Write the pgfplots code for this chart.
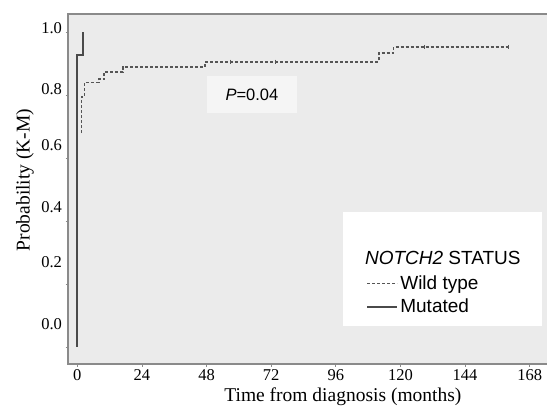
\documentclass[border=0pt]{standalone}
\usepackage{fontspec}
\setmainfont{Liberation Serif}
\newfontfamily\arial{Liberation Sans}
\usepackage{pgfplots}
\pgfplotsset{compat=1.18}
\usetikzlibrary{calc}
\definecolor{bg}{HTML}{EBEBEB}
\definecolor{axisgray}{HTML}{8A8A8A}
\definecolor{mutc}{HTML}{4A4A4A}
\definecolor{wildc}{HTML}{555555}
\definecolor{pbox}{HTML}{F5F5F5}
\begin{document}
\begin{tikzpicture}
\begin{axis}[name=ax, scale only axis, width=484bp, height=350bp,
  xmin=-3.45, xmax=176.3, ymin=-0.054, ymax=1.057,
  axis background/.style={fill=bg},
  axis line style={draw=axisgray, line width=1.5bp},
  xtick pos=bottom, ytick pos=left,
  /pgf/number format/assume math mode=true,
  tick label style={font=\fontsize{16.5bp}{19bp}\selectfont},
  xtick={0,24,48,72,96,120,144,168},
  xtick style={draw=axisgray, line width=0.8bp},
  major tick length=2.5bp,
  ytick={0.073,0.270,0.444,0.641,0.819,1.013},
  yticklabels={0.0,0.2,0.4,0.6,0.8,1.0},
  ytick style={draw=none},
  extra y ticks={0,0.2,0.4,0.6,0.8,1.0},
  extra y tick labels={},
  extra y tick style={ytick style={draw=axisgray, line width=0.8bp}, tick align=outside},
  tick align=outside,
  xlabel={Time from diagnosis (months)},
  ylabel={Probability (K-M)},
  label style={font=\fontsize{19.5bp}{22bp}\selectfont},
  xlabel style={at={(axis description cs:0.568,-0.094)}, anchor=center},
  ylabel style={at={(axis description cs:-0.089,0.526)}, anchor=center},
  clip=false,
  legend style={at={(rel axis cs:0.616,0.258)}, anchor=north west, draw=none, fill=none,
    font=\arial\fontsize{19bp}{21bp}\selectfont, inner sep=0pt, row sep=4bp,
    /tikz/every even column/.append style={column sep=0pt}},
  legend cell align=left,
  legend image code/.code={\draw[#1] (0bp,0bp) -- (30bp,0bp);},
]
% legend box and title
\fill[white] (rel axis cs:0.568,0.434) rectangle (rel axis cs:0.980,0.1086);
\node[font=\arial\fontsize{19bp}{21bp}\selectfont] at (rel axis cs:0.7745,0.303) {\textit{NOTCH2} STATUS};
% P value box
\fill[pbox] (rel axis cs:0.287,0.823) rectangle (rel axis cs:0.473,0.717);
\node[font=\arial\fontsize{16.5bp}{19bp}\selectfont] at (rel axis cs:0.380,0.769) {\textit{P}=0.04};
% Wild type
\addplot[const plot, color=wildc, line width=1.5bp, dash pattern=on 3bp off 2bp] coordinates {
 (1.6,0.679) (1.6,0.794) (2.6,0.794) (2.6,0.840) (8,0.840) (8,0.850) (10,0.850)
 (10,0.873) (17,0.873) (17,0.889) (47.5,0.889) (47.5,0.905) (112,0.905)
 (112,0.933) (117.5,0.933) (117.5,0.952) (160,0.952)
};
\addlegendentry{Wild type}
\addplot[only marks, mark=|, mark size=2.2bp, color=wildc, mark options={line width=1bp, solid}, forget plot] coordinates {
 (57,0.905) (73.5,0.905) (129,0.952) (160,0.952)
};
% Mutated
\addplot[color=mutc, line width=2bp] coordinates {
 (0,0) (0,0.927) (2,0.927) (2,1.0)
};
\addlegendentry{Mutated}
\end{axis}
\pgfresetboundingbox
\path[use as bounding box] ($(ax.south west)+(-68bp,-44bp)$) rectangle ($(ax.north west)+(479bp,14bp)$);
\end{tikzpicture}
\end{document}
